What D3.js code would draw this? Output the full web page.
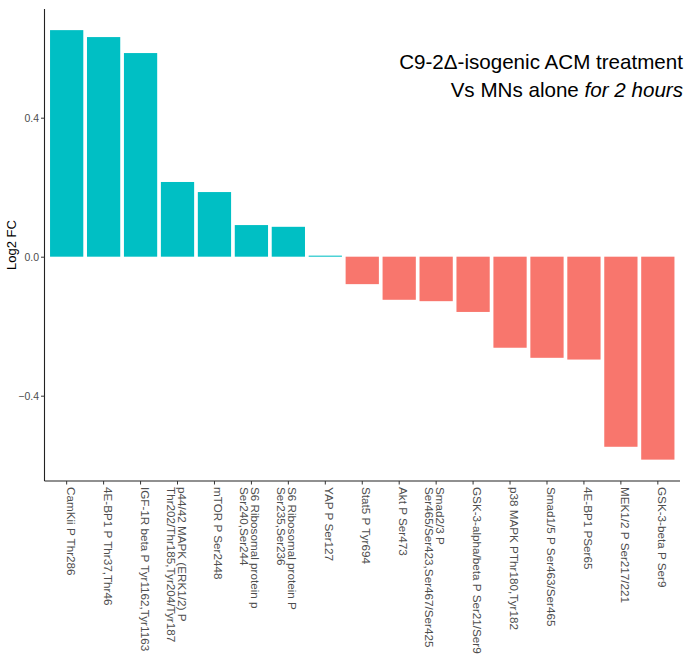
<!DOCTYPE html>
<html>
<head>
<meta charset="utf-8">
<script src="https://cdn.jsdelivr.net/npm/d3@7"></script>
<style>
  html, body { margin: 0; padding: 0; background: #fff; }
  svg { display: block; font-family: "Liberation Sans", Arial, sans-serif; }
</style>
</head>
<body>
<svg id="chart" width="691" height="664"></svg>
<script>
// Phospho-targets, ordered by log2 fold change
const categories = [
  "CamKii P Thr286",
  "4E-BP1 P Thr37,Thr46",
  "IGF-1R beta P Tyr1162,Tyr1163",
  "p44/42 MAPK (ERK1/2) P\nThr202/Thr185,Tyr204/Tyr187",
  "mTOR P Ser2448",
  "S6 Ribosomal protein p\nSer240,Ser244",
  "S6 Ribosomal protein P\nSer235,Ser236",
  "YAP P Ser127",
  "Stat5 P Tyr694",
  "Akt P Ser473",
  "Smad2/3 P\nSer465/Ser423,Ser467/Ser425",
  "GSK-3-alpha/beta P Ser21/Ser9",
  "p38 MAPK PThr180,Tyr182",
  "Smad1/5 P Ser463/Ser465",
  "4E-BP1 PSer65",
  "MEK1/2 P Ser217/221",
  "GSK-3-beta P Ser9"
];
const log2fc = [
  0.652, 0.632, 0.586, 0.215, 0.186, 0.091, 0.086, 0.003,
  -0.079, -0.124, -0.128, -0.159, -0.262, -0.291, -0.296, -0.547, -0.584
];
const yTicks = [-0.4, 0.0, 0.4];
const titleLines = ["C9-2\u0394-isogenic ACM treatment", "Vs MNs alone ", "for 2 hours"];

const upColor = "#00BFC4";
const downColor = "#F8766D";

const svg = d3.select("#chart");
const panel = { left: 44.5, right: 680, top: 9, bottom: 481 };

// Discrete axis with 0.6-step padding on both ends
const n = categories.length;
const step = (panel.right - panel.left) / (n - 1 + 1.2);
const x = d3.scaleBand()
  .domain(categories)
  .range([panel.left + 0.6 * step - step / 2, panel.right - 0.6 * step + step / 2])
  .paddingInner(0.1)
  .paddingOuter(0.05);

const y = d3.scaleLinear()
  .domain([-0.6455, 0.7128])
  .range([panel.bottom, panel.top]);

const data = categories.map((c, i) => ({ c, v: log2fc[i] }));

// Bars
svg.append("g")
  .selectAll("rect")
  .data(data)
  .join("rect")
  .attr("x", d => x(d.c))
  .attr("width", x.bandwidth())
  .attr("y", d => y(Math.max(0, d.v)))
  .attr("height", d => Math.abs(y(d.v) - y(0)))
  .attr("fill", d => d.v >= 0 ? upColor : downColor);

// Y axis
const yAxis = d3.axisLeft(y)
  .tickValues(yTicks)
  .tickFormat(d3.format(".1f"))
  .tickSize(3.5)
  .tickPadding(2);
const gy = svg.append("g")
  .attr("transform", `translate(${panel.left},0)`)
  .call(yAxis);
gy.select(".domain").attr("d", `M0,${panel.top}V${panel.bottom}`).attr("stroke", "#222").attr("stroke-width", 1.1);
gy.selectAll(".tick line").attr("stroke", "#333");
gy.selectAll(".tick text").attr("fill", "#4d4d4d").style("font-size", "10.5px");

// X axis
const xAxis = d3.axisBottom(x).tickSize(3.5).tickFormat("");
const gx = svg.append("g")
  .attr("transform", `translate(0,${panel.bottom})`)
  .call(xAxis);
gx.select(".domain").attr("d", `M${panel.left},0H${panel.right}`).attr("stroke", "#222").attr("stroke-width", 1.1);
gx.selectAll(".tick line").attr("stroke", "#333");

// Rotated category labels, one tspan per line
const lineH = 11;
const labels = svg.append("g")
  .selectAll("text")
  .data(categories)
  .join("text")
  .attr("transform", d => `translate(${x(d) + x.bandwidth() / 2},${panel.bottom + 6}) rotate(90)`)
  .attr("fill", "#4d4d4d")
  .style("font-size", "11.7px");
labels.each(function (d) {
  const t = d3.select(this);
  d.split("\n").forEach((line, i) => {
    t.append("tspan").attr("x", 0).attr("y", i * lineH).text(line);
  });
});

// Y axis title
svg.append("text")
  .attr("transform", `translate(16,${(panel.top + panel.bottom) / 2}) rotate(-90)`)
  .attr("text-anchor", "middle")
  .attr("fill", "#000")
  .style("font-size", "13px")
  .text("Log2 FC");

// Title, right-aligned inside the panel
const title = svg.append("g").attr("fill", "#000").style("font-size", "20.6px");
title.append("text")
  .attr("x", 683).attr("y", 69)
  .attr("text-anchor", "end")
  .text(titleLines[0]);
const t2 = title.append("text")
  .attr("x", 683).attr("y", 97)
  .attr("text-anchor", "end");
t2.append("tspan").text(titleLines[1]);
t2.append("tspan").style("font-style", "italic").text(titleLines[2]);
</script>
</body>
</html>
